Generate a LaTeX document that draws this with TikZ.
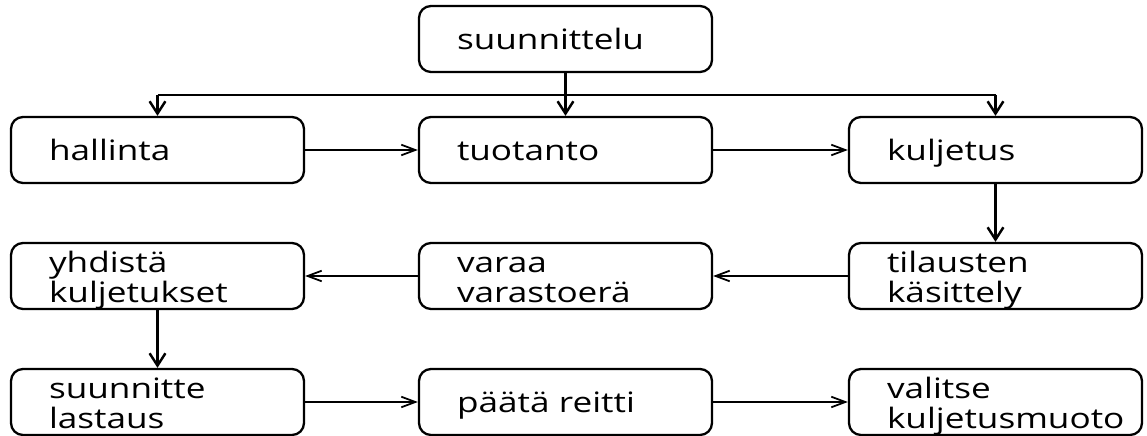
\documentclass[tikz,border=0pt]{standalone}
\usepackage{fontspec}
\setmainfont{Open Sans}[FakeStretch=1.25]
\usetikzlibrary{arrows.meta}
\hyphenpenalty=10000

\begin{document}
\begin{tikzpicture}[
    box/.style={draw, line width=1.3pt, rounded corners=0.24cm,
        minimum width=5.86cm, minimum height=1.32cm,
        text width=4.34cm, inner xsep=0.76cm, inner ysep=0.05cm,
        text height=12pt, text depth=0.6pt,
        align=left, font=\fontsize{16pt}{17.6pt}\selectfont},
    two/.style={text height=12pt, text depth=16.5pt},
    harrow/.style={line width=1pt, -{Straight Barb[length=8pt, width=6pt]}},
    varrow/.style={line width=1.4pt, -{Straight Barb[length=7pt, width=9pt]}}
]
    \useasboundingbox (0,0) rectangle (22.94,8.72);

    % top
    \node[box] (suun) at (11.31,7.94) {suunnittelu};

    % first row
    \node[box] (hal) at (3.15,5.72) {hallinta};
    \node[box] (tuo) at (11.31,5.72) {tuotanto};
    \node[box] (kul) at (19.91,5.72) {kuljetus};

    % second row
    \node[box, two] (yhd) at (3.15,3.20) {yhdistä\\kuljetukset};
    \node[box, two] (var) at (11.31,3.20) {varaa\\varastoerä};
    \node[box, two] (til) at (19.91,3.20) {tilausten\\käsittely};

    % third row
    \node[box, two] (las) at (3.15,0.68) {suunnitte\\lastaus};
    \node[box] (rei) at (11.31,0.68) {päätä reitti};
    \node[box, two] (val) at (19.91,0.68) {valitse\\kuljetusmuoto};

    % branch from the top box
    \coordinate (bar) at (0,6.82);
    \draw[varrow] (suun) -- (tuo);
    \draw[line width=1pt] (hal.north |- bar) -- (kul.north |- bar);
    \draw[varrow] (hal.north |- bar) -- (hal.north);
    \draw[varrow] (kul.north |- bar) -- (kul.north);

    % chain
    \draw[harrow] (hal) -- (tuo);
    \draw[harrow] (tuo) -- (kul);
    \draw[varrow] (kul) -- (til);
    \draw[harrow] (til) -- (var);
    \draw[harrow] (var) -- (yhd);
    \draw[varrow] (yhd) -- (las);
    \draw[harrow] (las) -- (rei);
    \draw[harrow] (rei) -- (val);
\end{tikzpicture}
\end{document}
